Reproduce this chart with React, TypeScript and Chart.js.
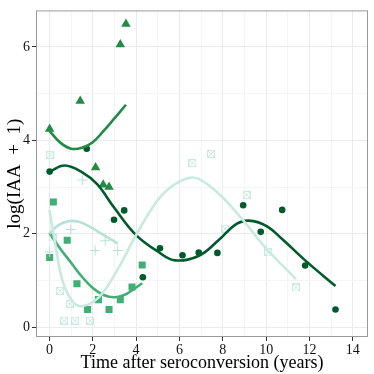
import React, { useEffect, useRef } from "react";
import { Chart, registerables } from "chart.js";
Chart.register(...registerables);

const FONT = "'Liberation Serif', 'DejaVu Serif', serif";

// Axis ranges / ticks
const xTickLabels = [0, 2, 4, 6, 8, 10, 12, 14];
const yTickLabels = [0, 2, 4, 6];

// Triangles
const triX = [0.01, 1.42, 2.13, 2.48, 2.75, 3.27, 3.53];
const triY = [4.24, 4.84, 3.42, 3.05, 3.0, 6.05, 6.49];
const triFitX = [0, 0.5, 1, 1.5, 2, 2.5, 3, 3.53];
const triFitY = [4.2, 3.95, 3.82, 3.84, 3.96, 4.2, 4.47, 4.76];

// Circles
const circX = [0.01, 1.72, 2.98, 3.45, 4.31, 5.1, 6.14, 6.89, 7.75, 8.94, 9.75, 10.74, 11.8, 13.2];
const circY = [3.33, 3.82, 2.3, 2.5, 1.07, 1.69, 1.54, 1.6, 1.59, 2.61, 2.04, 2.51, 1.32, 0.38];
const circFitX = [0, 0.7, 1.5, 2.2, 3, 4, 5, 5.8, 6.9, 7.8, 8.6, 9.2, 10, 10.8, 11.8, 13.2];
const circFitY = [3.33, 3.46, 3.32, 3.06, 2.55, 1.97, 1.62, 1.43, 1.53, 1.86, 2.2, 2.28, 2.17, 1.86, 1.43, 0.88];

// Squares
const sqX = [0.01, 0.18, 0.82, 1.27, 1.76, 2.26, 2.75, 3.27, 3.81, 4.28];
const sqY = [1.49, 2.68, 1.86, 0.93, 0.38, 0.59, 0.38, 0.59, 0.86, 1.33];
const sqFitX = [0, 0.5, 1, 1.5, 2, 2.5, 3, 3.5, 3.75, 4.28];
const sqFitY = [2.02, 1.68, 1.38, 1.08, 0.84, 0.69, 0.64, 0.7, 0.77, 0.94];

// Plus signs
const plusX = [0.01, 0.98, 1.53, 2.11, 2.57, 3.15];
const plusY = [1.61, 2.09, 3.15, 1.64, 1.85, 1.64];
const plusFitX = [0, 0.4, 0.9, 1.4, 1.9, 2.4, 2.8, 3.15];
const plusFitY = [2.0, 2.18, 2.27, 2.25, 2.14, 2.0, 1.89, 1.79];

// Crossed squares
const xsqX = [0.02, 0.15, 0.48, 0.68, 0.95, 1.19, 1.87, 6.6, 7.46, 8.1, 9.1, 10.1, 11.37];
const xsqY = [3.69, 1.92, 0.78, 0.14, 0.5, 0.14, 0.14, 3.51, 3.71, 2.11, 2.83, 1.6, 0.85];
const xsqFitX = [0, 0.3, 0.6, 1.05, 1.5, 2.3, 3.1, 3.95, 4.95, 5.72, 6.5, 7.0, 7.88, 8.95, 10.03, 11.37];
const xsqFitY = [2.51, 1.7, 1.0, 0.56, 0.45, 0.65, 1.2, 1.93, 2.69, 3.04, 3.2, 3.15, 2.83, 2.28, 1.67, 1.03];

const C_TRI = "#238b45";
const C_CIRC = "#005a2b";
const C_SQ = "#41ae76";
const C_PLUS = "#b7e2d5";
const C_XSQ = "#c8eae1";

const pts = (xs: number[], ys: number[]) => xs.map((x, i) => ({ x, y: ys[i] }));

function crossedSquare(color: string) {
  const c = document.createElement("canvas");
  c.width = 8;
  c.height = 8;
  const g = c.getContext("2d")!;
  g.strokeStyle = color;
  g.lineWidth = 1;
  g.strokeRect(0.5, 0.5, 7, 7);
  g.beginPath();
  g.moveTo(0.5, 0.5);
  g.lineTo(7.5, 7.5);
  g.moveTo(7.5, 0.5);
  g.lineTo(0.5, 7.5);
  g.stroke();
  return c;
}

const panelBorder = {
  id: "panelBorder",
  afterDraw(chart: any) {
    const { ctx, chartArea } = chart;
    const { left, top, right, bottom } = chartArea;
    ctx.save();
    ctx.strokeStyle = "#9a9a9a";
    ctx.lineWidth = 1;
    ctx.strokeRect(left + 0.5, top + 0.5, right - left - 1, bottom - top - 1);
    ctx.restore();
  },
};

const line = (xs: number[], ys: number[], color: string) => ({
  data: pts(xs, ys),
  showLine: true,
  borderColor: color,
  backgroundColor: color,
  borderWidth: 2.6,
  pointRadius: 0,
  tension: 0.4,
  fill: false,
});

export default function App() {
  const ref = useRef<HTMLCanvasElement>(null);
  useEffect(() => {
    document.body.style.margin = "0";
    const xsqImg = crossedSquare(C_XSQ);
    const gridColor = (ctx: any) => {
      const v = ctx.tick ? ctx.tick.value : 0;
      return Math.round(v) % 2 === 0 ? "#ebebeb" : "#f5f5f5";
    };
    const tickColor = (ctx: any) => {
      const v = ctx.tick ? ctx.tick.value : 0;
      return Math.round(v) % 2 === 0 ? "#333333" : "rgba(0,0,0,0)";
    };
    const chart = new Chart(ref.current!, {
      type: "scatter",
      data: {
        datasets: [
          line(xsqFitX, xsqFitY, C_XSQ),
          line(plusFitX, plusFitY, C_PLUS),
          line(sqFitX, sqFitY, C_SQ),
          line(triFitX, triFitY, C_TRI),
          line(circFitX, circFitY, C_CIRC),
          {
            data: pts(xsqX, xsqY),
            pointStyle: xsqImg,
            pointRadius: 4,
          },
          {
            data: pts(plusX, plusY),
            pointStyle: "cross",
            pointRadius: 5,
            borderWidth: 1,
            borderColor: C_PLUS,
            backgroundColor: C_PLUS,
          },
          {
            data: pts(sqX, sqY),
            pointStyle: "rect",
            pointRadius: 5,
            borderWidth: 0,
            borderColor: C_SQ,
            backgroundColor: C_SQ,
          },
          {
            data: pts(triX, triY),
            pointStyle: "triangle",
            pointRadius: 5.5,
            borderWidth: 0,
            borderColor: C_TRI,
            backgroundColor: C_TRI,
          },
          {
            data: pts(circX, circY),
            pointStyle: "circle",
            pointRadius: 3.3,
            borderWidth: 0,
            borderColor: C_CIRC,
            backgroundColor: C_CIRC,
          },
        ] as any,
      },
      options: {
        animation: false,
        responsive: false,
        layout: { padding: { top: 5, right: 6, left: 0, bottom: 0 } },
        plugins: { legend: { display: false }, tooltip: { enabled: false } },
        scales: {
          x: {
            type: "linear",
            min: -0.62,
            max: 14.7,
            afterFit: (s: any) => {
              s.height = 37;
            },
            ticks: {
              stepSize: 1,
              includeBounds: false,
              autoSkip: false,
              maxRotation: 0,
              padding: 1,
              color: "#111",
              font: { family: FONT, size: 14 },
              callback: (v: any) => (xTickLabels.includes(Number(v)) ? String(v) : ""),
            },
            grid: { color: gridColor, lineWidth: 1, tickLength: 4, tickColor },
            border: { display: false },
            title: {
              display: true,
              text: "Time after seroconversion (years)",
              font: { family: FONT, size: 18 },
              color: "#000",
              padding: 0,
            },
          },
          y: {
            type: "linear",
            min: -0.21,
            max: 6.78,
            afterFit: (s: any) => {
              s.width = 36;
            },
            ticks: {
              stepSize: 1,
              includeBounds: false,
              autoSkip: false,
              padding: 2,
              color: "#111",
              font: { family: FONT, size: 14 },
              callback: (v: any) => (yTickLabels.includes(Number(v)) ? String(v) : ""),
            },
            grid: { color: gridColor, lineWidth: 1, tickLength: 4, tickColor },
            border: { display: false },
            title: {
              display: true,
              text: "log(IAA\u2002+\u20021)",
              font: { family: FONT, size: 19 },
              color: "#000",
              padding: { top: 4, bottom: 0 },
            },
          },
        },
      } as any,
      plugins: [panelBorder],
    });
    return () => chart.destroy();
  }, []);
  return (
    <canvas
      ref={ref}
      width={374}
      height={374}
      style={{ display: "block", width: 374, height: 374 }}
    />
  );
}
